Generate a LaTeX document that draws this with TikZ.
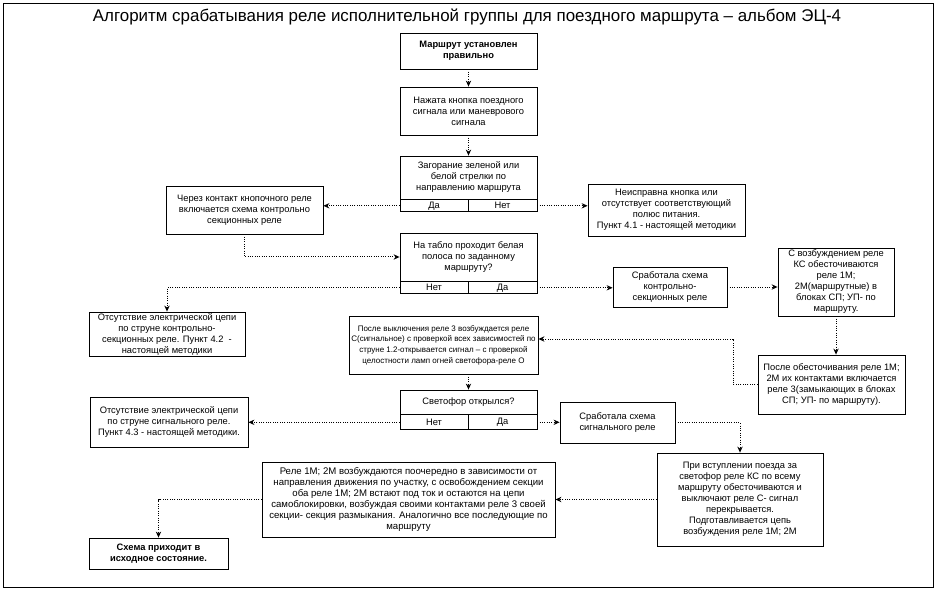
\documentclass[tikz,border=0pt]{standalone}
\usepackage{fontspec}
\setmainfont{Liberation Sans}
\usetikzlibrary{arrows.meta}
\begin{document}
\begin{tikzpicture}[x=0.75pt,y=-0.75pt,
  box/.style={draw, line width=0.6pt, align=center, inner sep=0pt, font=\fontsize{7}{8.25}\selectfont},
  boldbox/.style={box, font=\bfseries\fontsize{7}{8.25}\selectfont},
  conn/.style={densely dotted, line width=0.75pt, -{Stealth[length=4.5pt,width=4pt]}},
]
\useasboundingbox (0,0) rectangle (937,591);
\draw[line width=0.6pt] (3,3) rectangle (933,587);
\node[font=\fontsize{12.7}{14}\selectfont] (title) at (467,17) {Алгоритм срабатывания реле исполнительной группы для поездного маршрута – альбом ЭЦ-4};

% top chain
\node[boldbox, minimum width=102.75pt, minimum height=27pt] (b1) at (468.5,51) {Маршрут установлен\\правильно};
\node[box, minimum width=102.75pt, minimum height=36pt] (b2) at (468.5,111) {Нажата кнопка поездного\\сигнала или маневрового\\сигнала};
\node[box, minimum width=102.75pt, minimum height=32.25pt] (b3) at (468.5,177.5) {Загорание зеленой или\\белой стрелки по\\направлению маршрута};
\node[box, minimum width=51pt, minimum height=9pt, anchor=north west] (b3yes) at (b3.south west) {Да};
\node[box, minimum width=51.75pt, minimum height=9pt, anchor=north east] (b3no) at (b3.south east) {Нет};

\node[box, minimum width=117.75pt, minimum height=36pt] (b4) at (244.5,210) {Через контакт кнопочного реле\\включается схема контрольно\\секционных реле};
\node[box, minimum width=117.75pt, minimum height=39pt] (b5) at (666.5,210) {Неисправна кнопка или\\отсутствует соответствующий\\полюс питания.\\Пункт 4.1 - настоящей методики};

\node[box, minimum width=102.75pt, minimum height=36pt] (b6) at (468.5,257) {На табло проходит белая\\полоса по заданному\\маршруту?};
\node[box, minimum width=51pt, minimum height=9pt, anchor=north west] (b6no) at (b6.south west) {Нет};
\node[box, minimum width=51.75pt, minimum height=9pt, anchor=north east] (b6yes) at (b6.south east) {Да};

\node[box, minimum width=117pt, minimum height=33pt] (b7) at (167,334) {Отсутствие электрической цепи\\по струне контрольно-\\секционных реле. Пункт 4.2\ \ -\\настоящей методики};
\node[box, minimum width=85.5pt, minimum height=30pt] (b8) at (670,287) {Сработала схема\\контрольно-\\секционных реле};
\node[box, minimum width=87pt, minimum height=51pt] (b9) at (836,282) {С возбуждением реле\\КС обесточиваются\\реле 1М;\\2М(маршрутные) в\\блоках СП; УП- по\\маршруту.};
\node[box, minimum width=110.25pt, minimum height=44.25pt] (b10) at (831.5,384.5) {После обесточивания реле 1М;\\2М их контактами включается\\реле 3(замыкающих в блоках\\СП; УП- по маршруту).};
\node[box, font=\fontsize{6}{8}\selectfont, minimum width=141.75pt, minimum height=43.5pt] (b11) at (443.5,345) {После выключения реле 3 возбуждается реле\\С(сигнальное) с проверкой всех зависимостей по\\струне 1.2-открывается сигнал – с проверкой\\целостности ламп огней светофора-реле О};

\node[box, minimum width=102.75pt, minimum height=18pt] (b12) at (468.5,402) {Светофор открылся?};
\node[box, minimum width=51pt, minimum height=11.25pt, anchor=north west] (b12no) at (b12.south west) {Нет};
\node[box, minimum width=51.75pt, minimum height=11.25pt, anchor=north east] (b12yes) at (b12.south east) {Да};

\node[box, minimum width=118.5pt, minimum height=37.5pt] (b13) at (169,422) {Отсутствие электрической цепи\\по струне сигнального реле.\\Пункт 4.3 - настоящей методики.};
\node[box, minimum width=86.25pt, minimum height=30.75pt] (b14) at (617.5,422.5) {Сработала схема\\сигнального реле};
\node[box, minimum width=124.5pt, minimum height=69.75pt] (b15) at (740,499.5) {При вступлении поезда за\\светофор реле КС по всему\\маршруту обесточиваются и\\выключают реле С- сигнал\\перекрывается.\\Подготавливается цепь\\возбуждения реле 1М; 2М};
\node[box, font=\fontsize{7.2}{8.25}\selectfont, minimum width=219.75pt, minimum height=56.25pt] (b16) at (408.5,499.5) {Реле 1М; 2М возбуждаются поочередно в зависимости от\\направления движения по участку, с освобождением секции\\оба реле 1М; 2М встают под ток и остаются на цепи\\самоблокировки, возбуждая своими контактами реле 3 своей\\секции- секция размыкания. Аналогично все последующие по\\маршруту};
\node[boldbox, minimum width=104.25pt, minimum height=23.25pt] (b17) at (158.5,553.5) {Схема приходит в\\исходное состояние.};

% connectors
\draw[conn] (b1.south) -- (b2.north);
\draw[conn] (b2.south) -- (b3.north);
\draw[conn] (b3yes.west) -- (b3yes.west -| b4.east);
\draw[conn] (b3no.east) -- (b3no.east -| b5.west);
\draw[conn] (b4.south) |- (b6.west);
\draw[conn] (b6no.west) -| (b7.north);
\draw[conn] (b6yes.east) -- (b6yes.east -| b8.west);
\draw[conn] (b8.east) -- (b8.east -| b9.west);
\draw[conn] (b9.south) -- (b9.south |- b10.north);
\draw[conn] (b10.west) -| (733,339) -- (b11.east |- 733,339);
\draw[conn] (b12.north |- b11.south) -- (b12.north);
\draw[conn] (b12no.west) -- (b12no.west -| b13.east);
\draw[conn] (b12yes.east) -- (b12yes.east -| b14.west);
\draw[conn] (b14.east) -| (b15.north);
\draw[conn] (b15.west) -- (b15.west -| b16.east);
\draw[conn] (b16.west) -| (b17.north);
\end{tikzpicture}
\end{document}
